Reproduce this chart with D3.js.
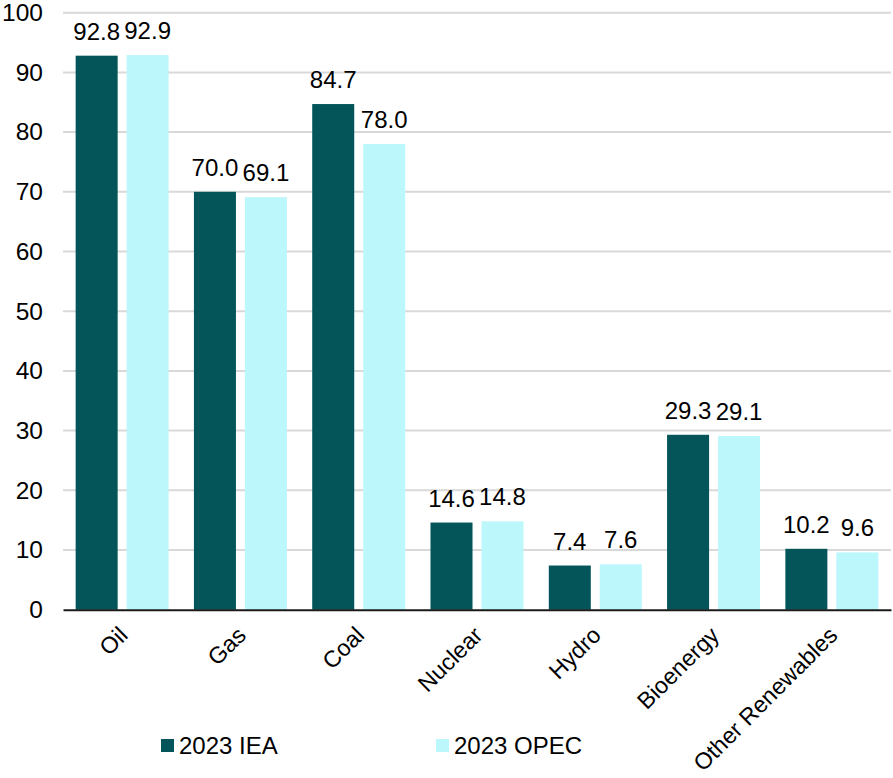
<!DOCTYPE html>
<html>
<head>
<meta charset="utf-8">
<script src="https://cdn.jsdelivr.net/npm/d3@7"></script>
<style>
  html, body { margin: 0; padding: 0; background: #fff; }
  svg text { font-family: "Liberation Sans", Arial, sans-serif; fill: #000; }
</style>
</head>
<body>
<svg id="chart" width="893" height="778"></svg>
<script>
// Energy demand by fuel, 2023: IEA vs OPEC estimates
const categories = ["Oil", "Gas", "Coal", "Nuclear", "Hydro", "Bioenergy", "Other Renewables"];
const seriesNames = ["2023 IEA", "2023 OPEC"];
const ieaValues = [92.8, 70.0, 84.7, 14.6, 7.4, 29.3, 10.2];
const opecValues = [92.9, 69.1, 78.0, 14.8, 7.6, 29.1, 9.6];
const yTicks = [0, 10, 20, 30, 40, 50, 60, 70, 80, 90, 100];
const colors = ["#03555a", "#bcf7fc"];

const rows = categories.map((c, i) => ({ cat: c, vals: [ieaValues[i], opecValues[i]] }));

const svg = d3.select("#chart");
const plotLeft = 63, plotRight = 891, plotTop = 12.7, plotBottom = 609.7;

const x0 = d3.scaleBand().domain(categories).range([plotLeft, plotRight]).padding(0);
const x1 = d3.scaleBand().domain(seriesNames).range([0, x0.bandwidth()])
  .paddingInner(0.176).paddingOuter(0.248);
const y = d3.scaleLinear().domain([0, 100]).range([plotBottom, plotTop]);

// gridlines
svg.append("g").selectAll("line").data(yTicks.filter(t => t > 0)).join("line")
  .attr("x1", plotLeft).attr("x2", plotRight)
  .attr("y1", d => y(d)).attr("y2", d => y(d))
  .attr("stroke", "#d9d9d9").attr("stroke-width", 2);

// y axis labels
const yAxis = d3.axisLeft(y).tickValues(yTicks).tickSize(0).tickPadding(20);
const gy = svg.append("g").attr("transform", `translate(${plotLeft},0)`).call(yAxis);
gy.select(".domain").remove();
gy.selectAll("text").attr("font-size", 24.5).attr("fill", "#000")
  .style("font-family", "Liberation Sans, Arial, sans-serif");

// bars
const groups = svg.append("g").selectAll("g").data(rows).join("g")
  .attr("transform", d => `translate(${x0(d.cat)},0)`);
groups.selectAll("rect").data(d => d.vals.map((v, j) => ({ s: seriesNames[j], v, j }))).join("rect")
  .attr("x", d => x1(d.s)).attr("width", x1.bandwidth())
  .attr("y", d => y(d.v)).attr("height", d => y(0) - y(d.v))
  .attr("fill", d => colors[d.j]);

// value labels
groups.selectAll("text.val").data(d => d.vals.map((v, j) => ({ s: seriesNames[j], v, j }))).join("text")
  .attr("class", "val")
  .attr("x", d => x1(d.s) + x1.bandwidth() / 2)
  .attr("y", d => y(d.v) - 16)
  .attr("text-anchor", "middle").attr("font-size", 24)
  .text(d => d.v.toFixed(1));

// x axis
const xAxis = d3.axisBottom(x0).tickSize(0).tickPadding(0);
const gx = svg.append("g").attr("transform", `translate(0,${plotBottom})`).call(xAxis);
gx.select(".domain").attr("stroke", "#1a1a1a").attr("stroke-width", 2);
gx.selectAll("text")
  .attr("font-size", 23.2).attr("fill", "#000")
  .style("font-family", "Liberation Sans, Arial, sans-serif")
  .attr("text-anchor", "end").attr("dy", null).attr("y", 0)
  .attr("transform", "translate(7,27) rotate(-45)");

// legend
const legendX = [161, 436];
const legend = svg.append("g").selectAll("g").data(seriesNames).join("g")
  .attr("transform", (d, i) => `translate(${legendX[i]},739)`);
legend.append("rect").attr("width", 13).attr("height", 13).attr("fill", (d, i) => colors[i]);
legend.append("text").attr("x", 18).attr("y", 14.5).attr("font-size", 24).text(d => d);
</script>
</body>
</html>
